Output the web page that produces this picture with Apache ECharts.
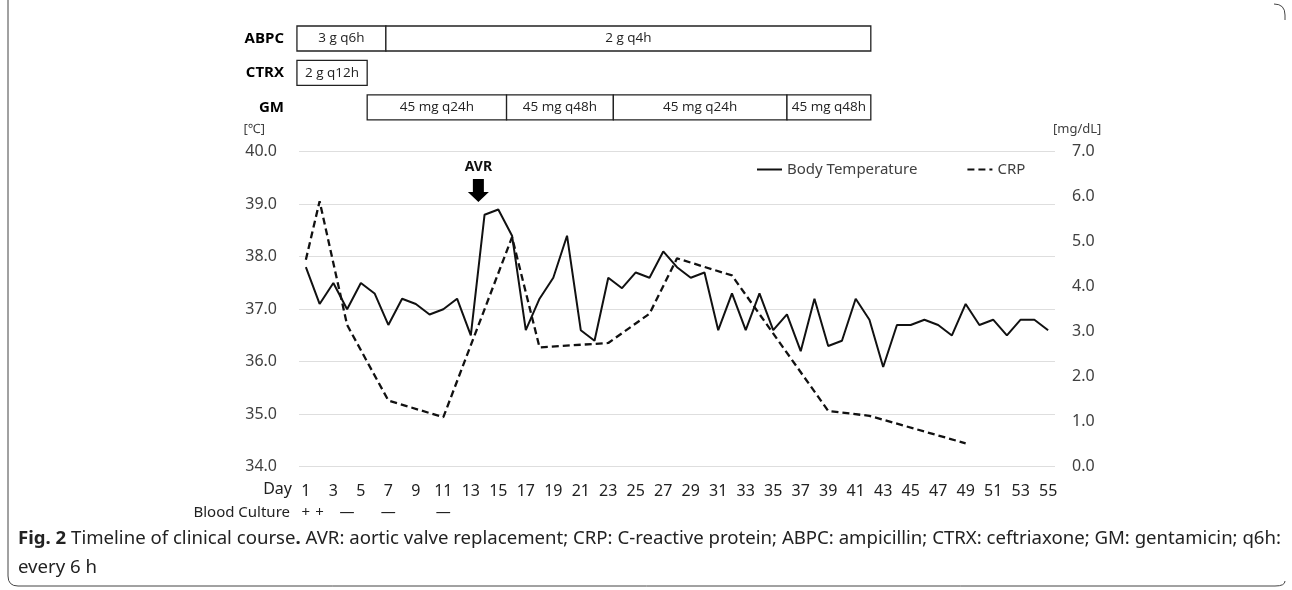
<!DOCTYPE html>
<html>
<head>
<meta charset="utf-8">
<script src="https://cdn.jsdelivr.net/npm/echarts@6/dist/echarts.min.js"></script>
<style>html,body{margin:0;padding:0;background:#fff}#c{width:1292px;height:590px}</style>
</head>
<body>
<div id="c"></div>
<script>
// ---- data ----
const days = ['1','2','3','4','5','6','7','8','9','10','11','12','13','14','15','16','17','18','19','20',
  '21','22','23','24','25','26','27','28','29','30','31','32','33','34','35','36','37','38','39','40',
  '41','42','43','44','45','46','47','48','49','50','51','52','53','54','55'];
const bodyTemp = [37.8,37.1,37.5,37.0,37.5,37.3,36.7,37.2,37.1,36.9,
  37.0,37.2,36.5,38.8,38.9,38.4,36.6,37.2,37.6,38.4,
  36.6,36.4,37.6,37.4,37.7,37.6,38.1,37.8,37.6,37.7,
  36.6,37.3,36.6,37.3,36.6,36.9,36.2,37.2,36.3,36.4,
  37.2,36.8,35.9,36.7,36.7,36.8,36.7,36.5,37.1,36.7,
  36.8,36.5,36.8,36.8,36.6];
const crpDays = [1,2,4,7,11,16,18,23,26,28,32,39,42,49];
const crpValues = [4.6,5.9,3.15,1.47,1.1,5.1,2.65,2.75,3.4,4.63,4.25,1.24,1.13,0.52];
const bcDays = [1,2,4,7,11];
const bcResults = ['+','+','—','—','—'];
const tempTicks = [34,35,36,37,38,39,40];
const crpTicks = [0,1,2,3,4,5,6,7];
const drugs = ['ABPC','CTRX','GM'];
const regimenRow = [0,0,1,2,2,2,2];
const regimenStart = [0.35,6.82,0.35,5.46,15.6,23.37,36.0];
const regimenEnd = [6.82,42.1,5.46,15.6,23.37,36.0,42.1];
const regimenLabel = ['3 g q6h','2 g q4h','2 g q12h','45 mg q24h','45 mg q48h','45 mg q24h','45 mg q48h'];
const avrEvent = [13.55, 39.26];

// ---- chart ----
const bcMap = {};
bcDays.forEach((d, i) => { bcMap[String(d)] = bcResults[i]; });
const sans = '"Noto Sans", sans-serif';
const open = '"Open Sans", sans-serif';
const borderStyle = {fill: 'none', stroke: '#444', lineWidth: 1};

const chart = echarts.init(document.getElementById('c'), null, {renderer: 'canvas'});
const option = {
  animation: false,
  backgroundColor: '#ffffff',
  legend: {
    left: 751, top: 157, itemWidth: 25, itemHeight: 14, itemGap: 49,
    data: ['Body Temperature', 'CRP'],
    itemStyle: {opacity: 0},
    textStyle: {fontFamily: sans, fontSize: 15, color: '#404040'}
  },
  grid: [
    {left: 299, right: 237, top: 151.7, bottom: 123.3},
    {left: 299, right: 237, top: 21.3, height: 103.2}
  ],
  xAxis: [
    {type: 'category', gridIndex: 0, data: days, boundaryGap: true,
      axisLine: {show: false}, axisTick: {show: false}, splitLine: {show: false},
      axisLabel: {interval: 1, margin: 17, fontSize: 16, color: '#222', fontFamily: sans},
      name: 'Day', nameLocation: 'start', nameGap: 7, nameMoveOverlap: false,
      nameTextStyle: {fontSize: 16, color: '#222', fontFamily: sans, verticalAlign: 'top', lineHeight: 46}},
    {type: 'category', gridIndex: 0, data: days, boundaryGap: true, position: 'bottom', offset: 22,
      axisLine: {show: false}, axisTick: {show: false}, splitLine: {show: false},
      axisLabel: {interval: 0, margin: 17, fontSize: 15, color: '#222', fontFamily: sans,
        formatter: v => bcMap[v] || ''},
      name: 'Blood Culture', nameLocation: 'start', nameGap: 9, nameMoveOverlap: false,
      nameTextStyle: {fontSize: 15, color: '#222', fontFamily: sans, verticalAlign: 'top', lineHeight: 48}},
    {type: 'value', gridIndex: 0, min: 0.5, max: 55.5, show: false},
    {type: 'value', gridIndex: 1, min: 0.5, max: 55.5, show: false}
  ],
  yAxis: [
    {type: 'value', gridIndex: 0, min: tempTicks[0], max: tempTicks[tempTicks.length - 1], interval: 1,
      position: 'left',
      axisLine: {show: false}, axisTick: {show: false},
      splitLine: {lineStyle: {color: '#dedede', width: 1}},
      axisLabel: {margin: 22, fontSize: 16, color: '#404040', fontFamily: sans, formatter: v => v.toFixed(1)},
      name: '[℃]', nameLocation: 'end', nameGap: 16,
      nameTextStyle: {align: 'right', padding: [0, 34, 0, 0], fontSize: 13, color: '#404040', fontFamily: sans}},
    {type: 'value', gridIndex: 0, min: crpTicks[0], max: crpTicks[crpTicks.length - 1], interval: 1,
      position: 'right',
      axisLine: {show: false}, axisTick: {show: false}, splitLine: {show: false},
      axisLabel: {margin: 17, fontSize: 16, color: '#404040', fontFamily: sans, formatter: v => v.toFixed(1)},
      name: '[mg/dL]', nameLocation: 'end', nameGap: 16,
      nameTextStyle: {align: 'left', padding: [0, 0, 0, -2], fontSize: 13, color: '#404040', fontFamily: sans}},
    {type: 'category', gridIndex: 1, data: drugs, inverse: true,
      axisLine: {show: false}, axisTick: {show: false}, splitLine: {show: false},
      axisLabel: {margin: 15, fontSize: 15, fontWeight: 'bold', color: '#000', fontFamily: open}}
  ],
  series: [
    {name: 'Body Temperature', type: 'line', xAxisIndex: 0, yAxisIndex: 0, data: bodyTemp,
      symbol: 'none', lineStyle: {color: '#111', width: 2}, itemStyle: {color: '#111'}, silent: true},
    {name: 'CRP', type: 'line', xAxisIndex: 0, yAxisIndex: 1,
      data: crpDays.map((d, i) => [d - 1, crpValues[i]]),
      symbol: 'none', lineStyle: {color: '#111', width: 2.3, type: [7, 4]}, itemStyle: {color: '#111'}, silent: true},
    {name: 'AVR', type: 'scatter', xAxisIndex: 2, yAxisIndex: 0, data: [avrEvent],
      symbol: 'path://M5,0 L16,0 L16,13 L21,13 L10.5,23 L0,13 L5,13 Z', symbolSize: [21, 23],
      itemStyle: {color: '#000', opacity: 1}, silent: true,
      label: {show: true, position: 'top', distance: 5, formatter: 'AVR', fontSize: 14, fontWeight: 'bold',
        color: '#111', fontFamily: sans}},
    {name: 'Regimen', type: 'custom', xAxisIndex: 3, yAxisIndex: 2, silent: true,
      data: regimenRow.map((r, i) => [r, regimenStart[i], regimenEnd[i]]),
      renderItem: (params, api) => {
        const row = api.value(0), s = api.value(1), e = api.value(2);
        const p0 = api.coord([s, row]);
        const p1 = api.coord([e, row]);
        const h = 25;
        return {type: 'group', children: [
          {type: 'rect', shape: {x: p0[0], y: p0[1] - h / 2, width: p1[0] - p0[0], height: h},
            style: {fill: '#fff', stroke: '#222', lineWidth: 1.3}},
          {type: 'text', style: {text: regimenLabel[params.dataIndex], x: (p0[0] + p1[0]) / 2, y: p0[1],
            align: 'center', verticalAlign: 'middle', fontSize: 13.5, fontFamily: open, fill: '#222'}}
        ]};
      }}
  ],
  graphic: [
    {type: 'line', shape: {x1: 8, y1: 0, x2: 8, y2: 576}, style: borderStyle},
    {type: 'bezierCurve', shape: {x1: 8, y1: 576, cpx1: 8, cpy1: 586, x2: 18, y2: 586}, style: borderStyle},
    {type: 'line', shape: {x1: 18, y1: 586, x2: 1275, y2: 586}, style: borderStyle},
    {type: 'bezierCurve', shape: {x1: 1275, y1: 586, cpx1: 1285, cpy1: 586, x2: 1285, y2: 581}, style: borderStyle},
    {type: 'bezierCurve', shape: {x1: 1274, y1: 4, cpx1: 1285, cpy1: 4, x2: 1285, y2: 15}, style: borderStyle},
    {type: 'line', shape: {x1: 1285, y1: 15, x2: 1285, y2: 20}, style: borderStyle},
    {type: 'text', left: 18, top: 524,
      style: {
        text: '{b|Fig. 2} Timeline of clinical course{b|.} AVR: aortic valve replacement; CRP: C-reactive protein; ABPC: ampicillin; CTRX: ceftriaxone; GM: gentamicin; q6h:\nevery 6 h',
        rich: {b: {fontWeight: 'bold', fontSize: 18.6, fontFamily: sans, fill: '#222', lineHeight: 29}},
        fontSize: 18.6, fontFamily: sans, fill: '#222', lineHeight: 29
      }}
  ]
};
chart.setOption(option);
</script>
</body>
</html>
